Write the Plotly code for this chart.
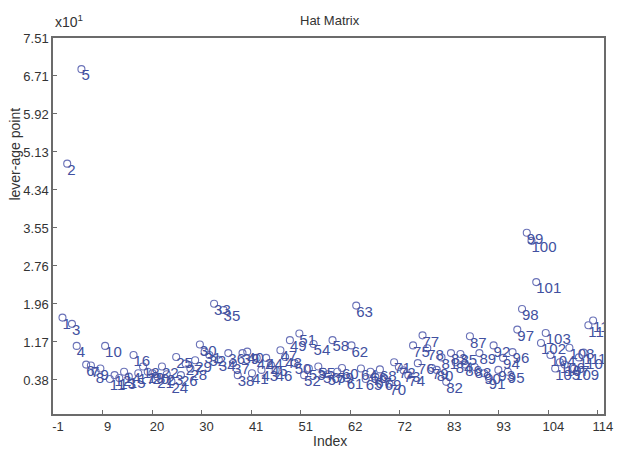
import plotly.graph_objects as go

# Observation index
index = list(range(1, 114))
# Leverage (hat) values, in units of x10^1 as shown on the axis
leverage = [
    1.68, 4.89, 1.55, 1.09, 6.86, 0.70, 0.68, 0.55, 0.62, 1.09,
    0.40, 0.48, 0.42, 0.55, 0.45, 0.90, 0.52, 0.66, 0.55, 0.52,
    0.45, 0.66, 0.50, 0.35, 0.86, 0.48, 0.72, 0.62, 0.79, 1.12,
    0.97, 0.90, 1.97, 0.80, 1.84, 0.94, 0.73, 0.48, 0.94, 0.97,
    0.52, 0.84, 0.59, 0.84, 0.69, 0.59, 1.00, 0.86, 1.21, 0.73,
    1.35, 0.48, 0.62, 1.13, 0.66, 0.55, 0.50, 1.21, 0.55, 0.63,
    0.42, 1.10, 1.93, 0.62, 0.40, 0.55, 0.45, 0.60, 0.40, 0.30,
    0.75, 0.65, 0.58, 0.48, 1.10, 0.73, 1.31, 1.04, 0.63, 0.59,
    0.85, 0.34, 0.94, 0.75, 0.92, 0.70, 1.29, 0.65, 0.94, 0.52,
    0.42, 1.10, 0.59, 0.84, 0.55, 0.96, 1.43, 1.86, 3.45, 3.28,
    2.42, 1.15, 1.36, 0.90, 0.62, 0.75, 0.70, 1.05, 0.62, 0.85,
    0.95, 1.52, 1.62,
]
labels = [str(i) for i in index]

x_tick_vals = [-1 + k * 115 / 11 for k in range(12)]
x_tick_text = ["-1", "9", "20", "30", "41", "51", "62", "72", "83", "93", "104", "114"]
y_tick_vals = [0.38 + k * (7.51 - 0.38) / 9 for k in range(10)]
y_tick_text = ["0.38", "1.17", "1.96", "2.76", "3.55", "4.34", "5.13", "5.92", "6.71", "7.51"]

FONT = "Liberation Sans, Arial, sans-serif"
TXT = "#333333"

fig = go.Figure()
fig.add_trace(go.Scatter(
    x=index, y=leverage,
    mode="markers",
    marker=dict(symbol="circle-open", size=7, color="#6a72b8", line=dict(width=1.1)),
    cliponaxis=True, showlegend=False, hoverinfo="skip",
))
fig.add_trace(go.Scatter(
    x=index, y=leverage, text=labels,
    mode="text",
    textposition="bottom right",
    marker=dict(size=1),
    textfont=dict(family=FONT, size=15, color="#4150a0"),
    cliponaxis=True, showlegend=False,
))

axis_common = dict(
    showline=True, mirror=True, linecolor="#6b6b6b", linewidth=1.5,
    ticks="inside", ticklen=4, tickcolor="#6b6b6b",
    showgrid=False, zeroline=False, automargin=False,
    tickfont=dict(family=FONT, size=13, color=TXT),
)

fig.update_layout(
    width=619, height=449,
    margin=dict(l=53, r=15, t=38, b=35),
    paper_bgcolor="white", plot_bgcolor="white",
    xaxis=dict(range=[-1, 115.3], tickmode="array", tickvals=x_tick_vals, ticktext=x_tick_text,
               ticklabelshift=5, **axis_common),
    yaxis=dict(range=[-0.33, 7.51], tickmode="array", tickvals=y_tick_vals, ticktext=y_tick_text,
               **axis_common),
    annotations=[
        dict(text="x10<sup>1</sup>", xref="paper", yref="paper", x=0.0, y=1.0,
             xanchor="left", yanchor="bottom", yshift=6, showarrow=False,
             font=dict(family=FONT, size=14, color=TXT)),
        dict(text="Hat Matrix", xref="paper", yref="paper", x=0.502, y=1.0,
             xanchor="center", yanchor="bottom", yshift=8, showarrow=False,
             font=dict(family=FONT, size=13, color=TXT)),
        dict(text="Index", xref="paper", yref="paper", x=0.502, y=0.0,
             xanchor="center", yanchor="top", yshift=-17, showarrow=False,
             font=dict(family=FONT, size=14, color=TXT)),
        dict(text="lever-age point", xref="paper", yref="paper", x=0.0, y=0.69,
             xanchor="center", yanchor="middle", xshift=-38, textangle=-90, showarrow=False,
             font=dict(family=FONT, size=14, color=TXT)),
    ],
)

fig.write_html("out.html", config={"displayModeBar": False},
               post_script="document.body.style.margin='0px';")
